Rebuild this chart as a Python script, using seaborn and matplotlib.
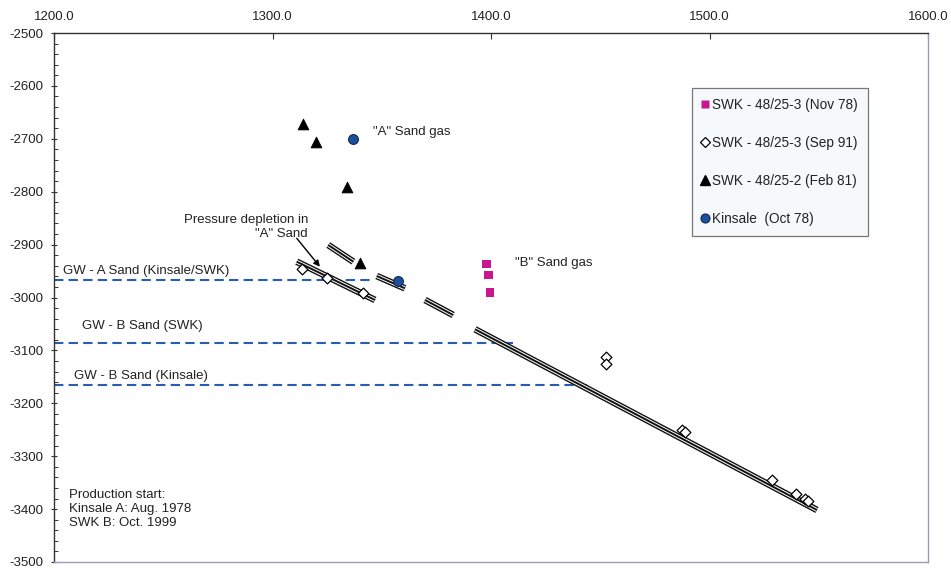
import matplotlib
matplotlib.use("Agg")
import matplotlib.pyplot as plt
import matplotlib.ticker as mticker
from matplotlib.lines import Line2D
import seaborn as sns
import pandas as pd

# ---- measured pressures (psia) vs depth (ft TVDSS) ----
swk3_nov78_p = [1398.0, 1398.8, 1399.5]
swk3_nov78_d = [-2936.7, -2957.5, -2990.2]

swk3_sep91_p = [1313.5, 1324.9, 1341.4, 1452.5, 1452.5, 1487.6, 1488.8,
                1528.8, 1539.4, 1543.7, 1545.0]
swk3_sep91_d = [-2946.1, -2963.1, -2991.5, -3111.9, -3125.7, -3250.5, -3254.3,
                -3345.0, -3372.0, -3381.0, -3384.7]

swk2_feb81_p = [1313.8, 1319.9, 1334.0, 1340.0]
swk2_feb81_d = [-2672.0, -2706.6, -2791.7, -2935.4]

kinsale_oct78_p = [1336.7, 1357.3]
kinsale_oct78_d = [-2701.0, -2968.8]

series_names = ["SWK - 48/25-3 (Nov 78)", "SWK - 48/25-3 (Sep 91)",
                "SWK - 48/25-2 (Feb 81)", "Kinsale  (Oct 78)"]

# ---- pressure gradient lines (start/end of each drawn piece) ----
grad_p0 = [1311.1, 1325.5, 1347.7, 1369.8, 1392.7]
grad_p1 = [1346.9, 1337.0, 1360.6, 1382.7, 1549.2]
grad_d0 = [-2932.3, -2900.8, -2959.4, -3004.7, -3060.1]
grad_d1 = [-3004.7, -2932.3, -2982.6, -3033.1, -3401.7]

# ---- gas-water contacts ----
gwc_depth = [-2967.0, -3086.6, -3165.4]
gwc_p_end = [1344.6, 1409.9, 1443.8]
gwc_labels = ["GW - A Sand (Kinsale/SWK)", "GW - B Sand (SWK)", "GW - B Sand (Kinsale)"]

x_ticks = [1200.0, 1300.0, 1400.0, 1500.0, 1600.0]
y_ticks = [-2500, -2600, -2700, -2800, -2900, -3000, -3100, -3200, -3300, -3400, -3500]

sns.set_style("ticks")
plt.rcParams["font.family"] = ["Liberation Sans", "DejaVu Sans"]
plt.rcParams["font.size"] = 9.5
plt.rcParams["axes.unicode_minus"] = False

fig = plt.figure(figsize=(9.51, 5.69), dpi=100)
ax = fig.add_axes([54 / 951, 1 - 562 / 569, 874 / 951, 529 / 569])

GWC_BLUE = "#2a5db0"
MAGENTA = "#c8178f"
KBLUE = "#1d4f9c"

# gas-water contacts
for d, pe in zip(gwc_depth, gwc_p_end):
    sns.lineplot(x=[x_ticks[0], pe], y=[d, d], ax=ax, color=GWC_BLUE, lw=1.5,
                 dashes=False, linestyle=(0, (4.5, 2.5)), zorder=2)

# gradient lines drawn as a triple rule
for p0, p1, d0, d1 in zip(grad_p0, grad_p1, grad_d0, grad_d1):
    seg = pd.DataFrame({"p": [p0, p1], "d": [d0, d1]})
    for lw, col in [(4.8, "#111111"), (2.8, "white"), (1.4, "#111111")]:
        sns.lineplot(data=seg, x="p", y="d", ax=ax, color=col, lw=lw,
                     sort=False, estimator=None, solid_capstyle="butt", zorder=3)

# pressure points
sns.scatterplot(x=swk3_sep91_p, y=swk3_sep91_d, ax=ax, marker="D", s=30,
                facecolor="white", edgecolor="black", linewidth=0.9, zorder=4)
sns.scatterplot(x=swk3_nov78_p, y=swk3_nov78_d, ax=ax, marker="s", s=40,
                color=MAGENTA, edgecolor="none", zorder=4)
sns.scatterplot(x=swk2_feb81_p, y=swk2_feb81_d, ax=ax, marker="^", s=60,
                color="black", edgecolor="black", zorder=4)
sns.scatterplot(x=kinsale_oct78_p, y=kinsale_oct78_d, ax=ax, marker="o", s=50,
                color=KBLUE, edgecolor="#0e2a55", linewidth=0.8, zorder=5)

ax.set_xlim(1200, 1600)
ax.set_ylim(-3500, -2500)
ax.set_xlabel("")
ax.set_ylabel("")

# axes: pressure labels along the top
ax.xaxis.tick_top()
ax.set_xticks(x_ticks)
ax.xaxis.set_major_formatter(mticker.FormatStrFormatter("%.1f"))
ax.set_yticks(y_ticks)
ax.yaxis.set_minor_locator(mticker.MultipleLocator(20))
ax.tick_params(axis="x", which="major", direction="in", length=4, width=0.8,
               pad=7.5, colors="#333333", labelcolor="#222222", labelsize=9.5)
ax.tick_params(axis="y", which="major", direction="inout", length=5, width=0.8,
               pad=5, colors="#333333", labelcolor="#222222", labelsize=9.5)
ax.tick_params(axis="y", which="minor", direction="in", length=3, width=0.7,
               colors="#333333")
for side in ("top", "left"):
    ax.spines[side].set_color("#333333")
    ax.spines[side].set_linewidth(1.0)
for side in ("right", "bottom"):
    ax.spines[side].set_visible(True)
    ax.spines[side].set_color("#9c9cba")
    ax.spines[side].set_linewidth(1.0)

# annotations
label_pos = [(1204.3, -2949.3), (1212.7, -3053.9), (1209.2, -3148.4)]
for txt, (lx, ly) in zip(gwc_labels, label_pos):
    ax.text(lx, ly, txt, ha="left", va="center", color="#222222")

ax.text(1346.1, -2686.6, '"A" Sand gas', ha="left", va="center", color="#222222")
ax.text(1411.0, -2935.4, '"B" Sand gas', ha="left", va="center", color="#222222")
ax.text(1316.3, -2866.7, 'Pressure depletion in\n"A" Sand', ha="right",
        va="center", multialignment="right", linespacing=1.15, color="#222222")
ax.annotate("", xy=(1321.7, -2941.8), xytext=(1311.1, -2888.1),
            arrowprops=dict(arrowstyle="-|>", color="black", lw=1.0,
                            mutation_scale=9, shrinkA=0, shrinkB=0), zorder=6)
ax.text(1207.0, -3399.8, "Production start:\nKinsale A: Aug. 1978\nSWK B: Oct. 1999",
        ha="left", va="center", linespacing=1.25, color="#222222")

# legend
handles = [
    Line2D([], [], ls="none", marker="s", ms=6, mfc=MAGENTA, mec="none"),
    Line2D([], [], ls="none", marker="D", ms=5, mfc="white", mec="black", mew=0.9),
    Line2D([], [], ls="none", marker="^", ms=7, mfc="black", mec="black"),
    Line2D([], [], ls="none", marker="o", ms=6.5, mfc=KBLUE, mec="#0e2a55", mew=0.8),
]
leg = ax.legend(handles, series_names, loc="upper left",
                bbox_to_anchor=(0.730, 0.896), frameon=True, fancybox=False,
                fontsize=9.8, labelspacing=1.75, handlelength=0.4,
                handletextpad=0.3, borderpad=0.75, borderaxespad=0.0,
                edgecolor="#777777", facecolor="#f5f9fc", framealpha=1.0)
leg.get_frame().set_linewidth(0.9)
for t in leg.get_texts():
    t.set_color("#222222")

fig.savefig("out.png", dpi=100)
